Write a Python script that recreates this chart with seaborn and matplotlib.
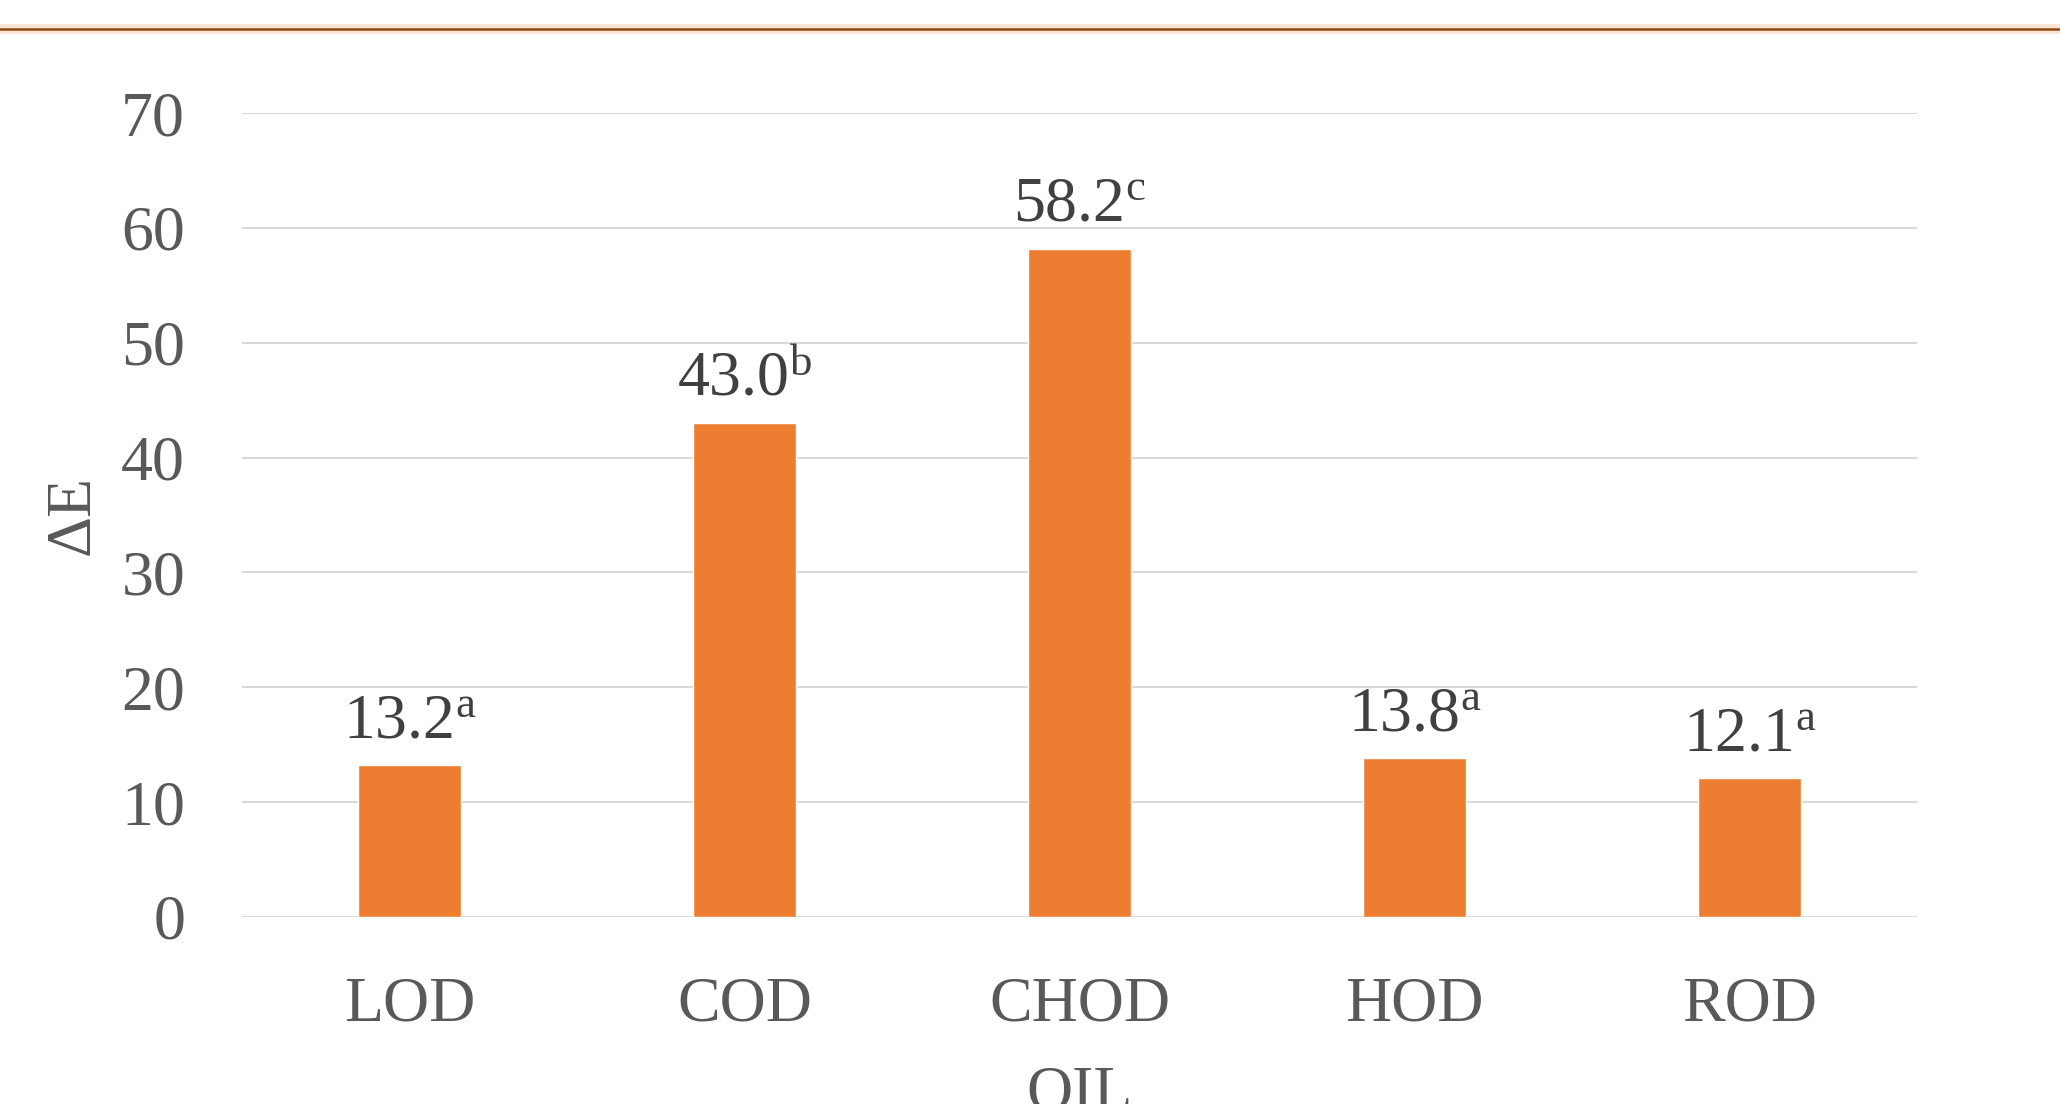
import matplotlib
matplotlib.use("Agg")
import matplotlib.pyplot as plt
import seaborn as sns
import pandas as pd
from matplotlib.lines import Line2D

# data
oils = ["LOD", "COD", "CHOD", "HOD", "ROD"]
delta_e = [13.2, 43.0, 58.2, 13.8, 12.1]
letters = ["a", "b", "c", "a", "a"]

sns.set_style("white")
plt.rcParams['font.family'] = ['Liberation Serif', 'DejaVu Serif']
plt.rcParams['mathtext.fontset'] = 'custom'
plt.rcParams['mathtext.rm'] = 'Liberation Serif'
plt.rcParams['mathtext.it'] = 'Liberation Serif'

df = pd.DataFrame({'oil': oils, 'dE': delta_e})

fig = plt.figure(figsize=(20.6, 11.04), dpi=100)
ax = fig.add_axes([0.1175, 0.1694, 0.8131, 0.7282])

sns.barplot(data=df, x='oil', y='dE', color='#ED7D31', saturation=1, width=0.31, ax=ax)

ax.set_ylim(0, 70)
ax.set_xlim(-0.5, 4.5)
ax.set_yticks(range(0, 71, 10))
ax.yaxis.grid(True, color='#d9d9d9', linewidth=1.5)
ax.set_axisbelow(True)
for s in ax.spines.values():
    s.set_visible(False)

ax.tick_params(axis='both', length=0, labelsize=46, labelcolor='#595959')
ax.tick_params(axis='y', pad=41)
ax.tick_params(axis='x', pad=43)

ax.set_xlabel('OIL', fontsize=46, color='#595959', labelpad=22)
ax.set_ylabel('ΔE', fontsize=46, color='#595959')
ax.yaxis.set_label_coords(-0.083, 0.5)

for i, (v, l) in enumerate(zip(delta_e, letters)):
    ax.annotate(f"{v:.1f}$^{{\\mathrm{{{l}}}}}$", (i, v), xytext=(0, 10),
                textcoords='offset points', ha='center', va='bottom',
                fontsize=46, color='#404040')

# decorative rule at the top
fig.add_artist(Line2D([0, 1], [0.9737, 0.9737], transform=fig.transFigure,
                      color='#F4B183', alpha=0.35, linewidth=7))
fig.add_artist(Line2D([0, 1], [0.9737, 0.9737], transform=fig.transFigure,
                      color='#8E4A12', linewidth=1.8))

fig.savefig('out.png', dpi=100)
